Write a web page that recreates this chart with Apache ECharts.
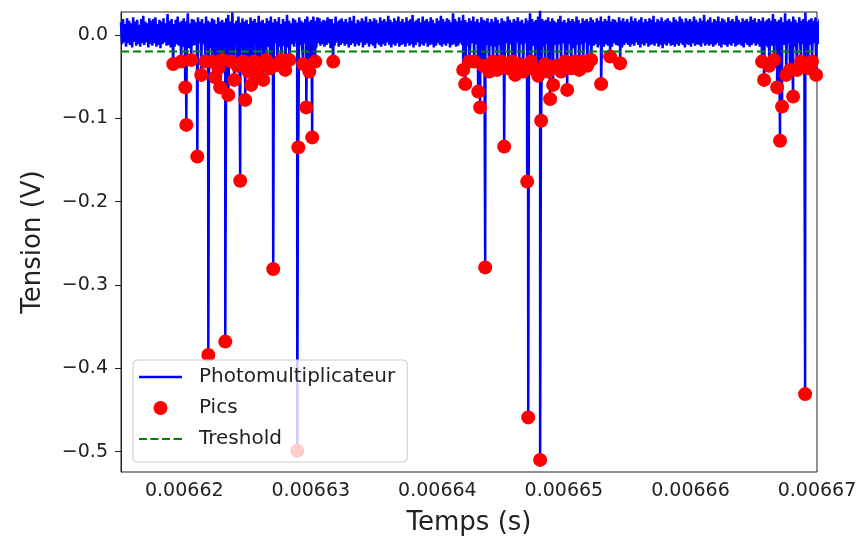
<!DOCTYPE html>
<html><head><meta charset="utf-8">
<script src="https://cdn.jsdelivr.net/npm/echarts@6/dist/echarts.min.js"></script>
<style>html,body{margin:0;padding:0;background:#fff}#c{width:862px;height:545px}</style>
</head><body><div id="c"></div>
<script>
const xTicks = [0.00662, 0.00663, 0.00664, 0.00665, 0.00666, 0.00667];
const yTicks = [-0.5, -0.4, -0.3, -0.2, -0.1, 0.0];
const xRange = [0.006615, 0.00667];
const yRange = [-0.5245, 0.0275];
const threshold = -0.02;

// Photomultiplier baseline noise (V), sampled from noiseStart every noiseStep seconds
const noiseStart = 0.006615;
const noiseStep = 0.8e-7;
const noiseA = [
0.015,-0.011,0.019,-0.009,0.013,-0.014,0.020,-0.010,0.017,-0.012,0.014,-0.015,0.021,-0.008,0.016,-0.013,0.018,-0.011,0.012,-0.014,
0.019,-0.010,0.023,-0.012,0.016,-0.009,0.014,-0.015,0.020,-0.011,0.017,-0.013,0.019,-0.010,0.021,-0.014,0.013,-0.012,0.018,-0.016,
0.016,-0.011,0.020,-0.009,0.014,-0.013,0.025,-0.012,0.017,-0.015,0.019,-0.010,0.013,-0.014,0.018,-0.011,0.022,-0.013,0.015,-0.009,
0.017,-0.014,0.020,-0.012,0.016,-0.010,0.026,-0.016,0.014,-0.011,0.019,-0.013,0.018,-0.012,0.015,-0.015,0.021,-0.010,0.016,-0.013,
0.019,-0.011,0.014,-0.014,0.022,-0.009,0.017,-0.012,0.015,-0.016,0.020,-0.010,0.018,-0.013,0.013,-0.011,0.021,-0.015,0.016,-0.012,
0.018,-0.010,0.015,-0.014,0.020,-0.011,0.024,-0.013,0.016,-0.009,0.027,-0.015,0.014,-0.012,0.017,-0.010,0.022,-0.014,0.015,-0.011,
0.020,-0.013,0.016,-0.010,0.018,-0.015,0.013,-0.012,0.021,-0.009,0.017,-0.014,0.019,-0.011,0.015,-0.013,0.023,-0.010,0.016,-0.015,
0.018,-0.012,0.014,-0.011,0.020,-0.014,0.017,-0.009,0.022,-0.013,0.015,-0.016,0.019,-0.010,0.016,-0.012,0.021,-0.014,0.013,-0.011,
0.019,-0.013,0.016,-0.010,0.024,-0.015,0.017,-0.012,0.014,-0.011,0.020,-0.014,0.018,-0.009,0.015,-0.013,0.021,-0.012,0.017,-0.016,
0.015,-0.010,0.019,-0.013,0.022,-0.011,0.016,-0.014,0.018,-0.009,0.022,-0.012,0.017,-0.015,0.021,-0.010,0.020,-0.013,0.016,-0.011,
0.018,-0.014,0.017,-0.012,0.021,-0.010,0.019,-0.016,0.019,-0.011,0.014,-0.013,0.022,-0.009,0.016,-0.014,0.018,-0.012,0.020,-0.010,
0.016,-0.013,0.019,-0.011,0.015,-0.015,0.021,-0.012,0.017,-0.010,0.023,-0.014,0.014,-0.011,0.018,-0.013,0.016,-0.009,0.020,-0.015,
0.017,-0.012,0.022,-0.010,0.015,-0.014,0.019,-0.011,0.016,-0.013,0.020,-0.016,0.018,-0.010,0.014,-0.012,0.021,-0.014,0.017,-0.011,
0.019,-0.013,0.016,-0.009,0.023,-0.012,0.018,-0.015,0.015,-0.011,0.020,-0.013,0.017,-0.010,0.022,-0.014,0.016,-0.012,0.019,-0.011,
0.015,-0.014,0.021,-0.010,0.017,-0.013,0.019,-0.011,0.024,-0.015,0.016,-0.012,0.018,-0.009,0.020,-0.014,0.015,-0.011,0.022,-0.013,
0.017,-0.010,0.019,-0.014,0.016,-0.012,0.021,-0.011,0.018,-0.015,0.014,-0.013,0.020,-0.010,0.017,-0.012,0.023,-0.014,0.019,-0.011,
0.016,-0.013,0.020,-0.010,0.018,-0.015,0.015,-0.012,0.026,-0.011,0.019,-0.014,0.016,-0.013,0.021,-0.010,0.017,-0.012,0.024,-0.015,
0.018,-0.011,0.015,-0.013,0.020,-0.012,0.017,-0.010,0.022,-0.014,0.016,-0.011,0.019,-0.013,0.015,-0.012,0.021,-0.010,0.018,-0.014
];
const noiseB = [
0.017,-0.012,0.020,-0.010,0.015,-0.013,0.019,-0.011,0.016,-0.014,0.021,-0.009,0.018,-0.012,0.014,-0.015,0.020,-0.011,0.017,-0.013,
0.016,-0.010,0.022,-0.014,0.018,-0.011,0.015,-0.013,0.019,-0.012,0.017,-0.009,0.021,-0.015,0.016,-0.011,0.018,-0.013,0.014,-0.010,
0.020,-0.012,0.017,-0.014,0.026,-0.011,0.019,-0.013,0.016,-0.010,0.018,-0.015,0.022,-0.012,0.030,-0.011,0.019,-0.014,0.017,-0.012,
0.018,-0.011,0.021,-0.013,0.016,-0.010,0.020,-0.014,0.017,-0.012,0.015,-0.015,0.019,-0.011,0.023,-0.013,0.016,-0.010,0.018,-0.014,
0.015,-0.012,0.020,-0.011,0.017,-0.013,0.019,-0.016,0.016,-0.010,0.022,-0.012,0.018,-0.014,0.014,-0.011,0.020,-0.013,0.017,-0.009,
0.019,-0.014,0.016,-0.012,0.021,-0.010,0.018,-0.013,0.015,-0.011,0.020,-0.015,0.017,-0.012,0.022,-0.010,0.016,-0.014,0.019,-0.011,
0.017,-0.013,0.023,-0.011,0.016,-0.014,0.019,-0.010,0.018,-0.012,0.015,-0.013,0.021,-0.011,0.017,-0.015,0.020,-0.012,0.016,-0.010,
0.019,-0.012,0.015,-0.014,0.022,-0.011,0.017,-0.013,0.020,-0.009,0.016,-0.012,0.018,-0.015,0.021,-0.011,0.015,-0.013,0.019,-0.010,
0.016,-0.014,0.020,-0.012,0.018,-0.011,0.023,-0.013,0.015,-0.010,0.019,-0.014,0.017,-0.012,0.021,-0.016,0.016,-0.011,0.018,-0.013,
0.020,-0.010,0.017,-0.013,0.015,-0.012,0.021,-0.014,0.018,-0.011,0.016,-0.013,0.022,-0.010,0.019,-0.012,0.015,-0.015,0.020,-0.011,
0.017,-0.012,0.019,-0.014,0.016,-0.010,0.022,-0.013,0.018,-0.011,0.015,-0.012,0.020,-0.014,0.017,-0.010,0.024,-0.013,0.016,-0.011,
0.018,-0.013,0.021,-0.011,0.015,-0.014,0.019,-0.012,0.017,-0.010,0.022,-0.013,0.016,-0.015,0.020,-0.011,0.018,-0.012,0.015,-0.014,
0.021,-0.011,0.017,-0.013,0.019,-0.010,0.016,-0.014,0.023,-0.012,0.018,-0.011,0.015,-0.013,0.020,-0.015,0.017,-0.010,0.019,-0.012,
0.016,-0.014,0.022,-0.012,0.018,-0.010,0.020,-0.013,0.015,-0.011,0.019,-0.014,0.017,-0.012,0.021,-0.010,0.016,-0.013,0.018,-0.015,
0.020,-0.011,0.017,-0.013,0.025,-0.012,0.019,-0.010,0.016,-0.014,0.018,-0.011,0.021,-0.013,0.015,-0.012,0.026,-0.016,0.017,-0.010,
0.019,-0.013,0.016,-0.011,0.022,-0.014,0.018,-0.012,0.015,-0.010,0.021,-0.013,0.017,-0.011,0.019,-0.015,0.027,-0.012,0.016,-0.011,
0.018,-0.012,0.020,-0.014,0.017,-0.010,0.021,-0.013,0.016,-0.011,0.019,-0.012,0.015,-0.014,0.022,-0.011,0.018,-0.013,0.020,-0.010,
0.017,-0.014,0.019,-0.011,0.016,-0.013,0.021,-0.012,0.018,-0.010,0.020,-0.014,0.015,-0.011,0.022,-0.013,0.017,-0.012,0.019,-0.011
];

// Detected peaks ("Pics"): time (s) and voltage (V)
const peakTimes = [
0.00661913,0.00661976,0.00662008,0.00662016,0.00662055,0.00662103,0.00662134,0.00662166,0.0066219,0.00662221,
0.00662245,0.00662269,0.00662284,0.006623,0.00662324,0.00662348,0.00662371,0.00662395,0.00662419,0.00662442,
0.00662466,0.00662482,0.00662506,0.00662529,0.00662553,0.00662577,0.006626,0.00662624,0.00662648,0.00662679,
0.00662703,0.00662735,0.00662766,0.00662798,0.0066283,0.00662893,0.00662901,0.0066294,0.00662964,0.00662988,
0.00663011,0.00663035,0.00663177,
0.00664204,0.0066422,0.00664252,0.00664291,0.00664323,0.00664338,0.00664362,0.00664378,0.0066441,0.00664441,
0.00664473,0.00664504,0.00664528,0.0066456,0.00664591,0.00664615,0.00664647,0.00664678,0.0066471,0.00664718,
0.00664741,0.00664773,0.00664797,0.00664812,0.0066482,0.00664852,0.00664876,0.00664891,0.00664915,0.00664947,
0.00664978,0.0066501,0.00665026,0.00665057,0.00665089,0.00665121,0.00665152,0.00665184,0.00665215,0.00665294,
0.00665365,0.00665444,
0.00666566,0.00666582,0.00666622,0.00666661,0.00666685,0.00666708,0.00666724,0.00666756,0.00666787,0.00666811,
0.00666843,0.00666874,0.00666906,0.0066693,0.00666961,0.00666993
];
const peakValues = [
-0.035,-0.032,-0.063,-0.108,-0.030,-0.146,-0.048,-0.032,-0.384,-0.032,
-0.051,-0.040,-0.063,-0.030,-0.368,-0.072,-0.032,-0.054,-0.037,-0.175,
-0.032,-0.078,-0.044,-0.060,-0.032,-0.048,-0.035,-0.054,-0.030,-0.040,
-0.281,-0.036,-0.030,-0.042,-0.030,-0.499,-0.135,-0.035,-0.087,-0.044,
-0.123,-0.032,-0.032,
-0.042,-0.059,-0.032,-0.032,-0.068,-0.087,-0.037,-0.279,-0.044,-0.032,
-0.042,-0.032,-0.134,-0.040,-0.032,-0.048,-0.035,-0.044,-0.176,-0.459,
-0.032,-0.042,-0.049,-0.510,-0.103,-0.035,-0.044,-0.077,-0.060,-0.037,
-0.044,-0.032,-0.066,-0.040,-0.032,-0.042,-0.032,-0.037,-0.030,-0.059,
-0.026,-0.034,
-0.032,-0.054,-0.037,-0.030,-0.063,-0.127,-0.086,-0.048,-0.042,-0.074,
-0.042,-0.032,-0.431,-0.040,-0.032,-0.048
];

const FONT = 'DejaVu Sans';
const TXT = '#222';

const peaks = peakTimes.map((t, i) => [t, peakValues[i]]);
const signal = noiseA.concat(noiseB).map((v, i) => [noiseStart + i * noiseStep, v])
  .concat(peaks)
  .sort((a, b) => a[0] - b[0]);

// legend icons: thin solid / dashed strokes inside a 43x14 box (tiny corner marks fix the box size)
const boxMarks = 'M0,0h0.01v0.01h-0.01zM43,14h0.01v0.01h-0.01z';
const solidIcon = 'path://' + boxMarks + 'M0,5.8h43v2.4h-43z';
const dashIcon = 'path://' + boxMarks + 'M0,6h8v2h-8zM11.5,6h8v2h-8zM23,6h8v2h-8zM34.5,6h8.5v2h-8.5z';

const chart = echarts.init(document.getElementById('c'), null, {renderer: 'canvas'});
chart.setOption({
  animation: false,
  backgroundColor: '#fff',
  grid: {left: 121, right: 45, top: 12, bottom: 73, show: true, borderColor: '#222', borderWidth: 1, containLabel: false},
  xAxis: {
    type: 'value', min: xRange[0], max: xRange[1],
    axisLine: {show: true, lineStyle: {color: '#222', width: 1}},
    axisTick: {show: true, customValues: xTicks, length: 6, lineStyle: {color: '#222'}},
    axisLabel: {customValues: xTicks, formatter: v => v.toFixed(5), fontFamily: FONT, fontSize: 19, color: TXT, margin: 10},
    splitLine: {show: false},
    name: 'Temps (s)', nameLocation: 'middle', nameGap: 38,
    nameTextStyle: {fontFamily: FONT, fontSize: 26, color: TXT}
  },
  yAxis: {
    type: 'value', min: yRange[0], max: yRange[1],
    axisLine: {show: true, lineStyle: {color: '#222', width: 1}},
    axisTick: {show: true, customValues: yTicks, length: 6, lineStyle: {color: '#222'}},
    axisLabel: {customValues: yTicks, formatter: v => (v < -1e-9 ? '\u2212' : '') + Math.abs(v).toFixed(1), fontFamily: FONT, fontSize: 19, color: TXT, margin: 13},
    splitLine: {show: false},
    name: 'Tension (V)', nameLocation: 'middle', nameGap: 75, nameRotate: 90,
    nameTextStyle: {fontFamily: FONT, fontSize: 26, color: TXT}
  },
  legend: {
    orient: 'vertical', left: 133, top: 360,
    data: [
      {name: 'Photomultiplicateur', icon: solidIcon, itemStyle: {color: '#0000ff', borderWidth: 0}},
      {name: 'Pics', icon: 'circle', itemStyle: {color: '#ff0000', opacity: 1, borderWidth: 0}},
      {name: 'Treshold', icon: dashIcon, itemStyle: {color: '#008000', borderWidth: 0}}
    ],
    selectedMode: false,
    itemWidth: 43, itemHeight: 14, itemGap: 11,
    padding: [7, 12, 13, 6],
    backgroundColor: 'rgba(255,255,255,0.8)', borderColor: '#ccc', borderWidth: 1, borderRadius: 4,
    textStyle: {fontFamily: FONT, fontSize: 20, lineHeight: 20, color: TXT, padding: [0, 0, 0, 12]}
  },
  series: [
    {name: 'Photomultiplicateur', type: 'line', data: signal, showSymbol: false, symbol: 'none',
     lineStyle: {color: '#0000ff', width: 2.5}, itemStyle: {color: '#0000ff'}, z: 2, silent: true},
    {name: 'Pics', type: 'scatter', data: peaks, symbol: 'circle', symbolSize: 14,
     itemStyle: {color: '#ff0000', opacity: 1}, z: 3, silent: true},
    {name: 'Treshold', type: 'line', data: [[xRange[0], threshold], [xRange[1], threshold]], showSymbol: false, symbol: 'none',
     lineStyle: {color: '#008000', width: 2, type: [8, 4]}, itemStyle: {color: '#008000'}, z: 4, silent: true}
  ]
});
</script>
</body></html>
